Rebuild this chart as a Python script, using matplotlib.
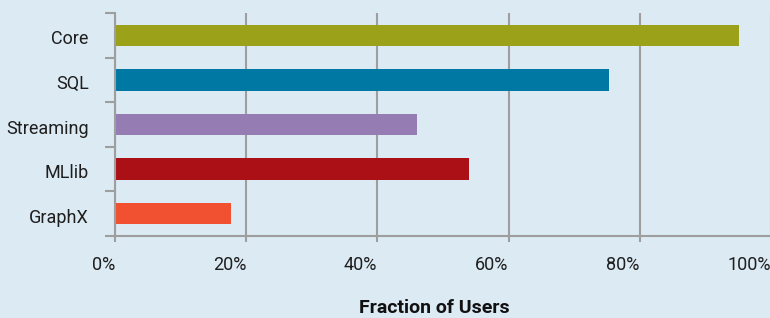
import matplotlib.pyplot as plt
from matplotlib.ticker import FuncFormatter
from matplotlib.transforms import ScaledTranslation

# Spark component usage
components = ['Core', 'SQL', 'Streaming', 'MLlib', 'GraphX']
fraction = [95.1, 75.3, 46.0, 54.0, 17.7]
bar_colors = ['#9BA21A', '#0078A4', '#957DB3', '#AB1016', '#F15131']
xticks = [0, 20, 40, 60, 80, 100]

bg = '#DBEAF3'
grey = '#9E9E9E'

plt.rcParams['font.family'] = ['Roboto', 'DejaVu Sans']

fig = plt.figure(figsize=(7.7, 3.18), dpi=100, facecolor=bg)
ax = fig.add_axes([115 / 770, 82 / 318, 656 / 770, 223 / 318], facecolor=bg)

ypos = list(range(len(components)))[::-1]
ax.barh(ypos, fraction, height=0.48, color=bar_colors, zorder=3)

ax.set_xlim(0, 100)
ax.set_ylim(-0.5, len(components) - 0.5)

ax.set_xticks(xticks)
ax.xaxis.set_major_formatter(FuncFormatter(lambda v, p: f'{v:.0f}%'))
shift = ScaledTranslation(-3 / 100, 0, fig.dpi_scale_trans)
for lab in ax.get_xticklabels():
    lab.set_horizontalalignment('right')
    lab.set_transform(lab.get_transform() + shift)
ax.grid(axis='x', color=grey, linewidth=1.5, zorder=1)

# category labels centered, boundary ticks as minor ticks
ax.set_yticks(ypos)
ax.set_yticklabels(components)
ax.set_yticks([y - 0.5 for y in range(len(components) + 1)], minor=True)
ax.tick_params(axis='y', which='major', length=0, pad=19, labelsize=13, labelcolor='#1E1E1E')
ax.tick_params(axis='y', which='minor', length=7, width=1.5, color=grey)
ax.tick_params(axis='x', length=4.5, width=1.5, color=grey, pad=10, labelsize=13, labelcolor='#1E1E1E')
down = ScaledTranslation(0, -2 / 100, fig.dpi_scale_trans)
for lab in ax.get_yticklabels():
    lab.set_transform(lab.get_transform() + down)

for s in ['top', 'right']:
    ax.spines[s].set_visible(False)
for s in ['left', 'bottom']:
    ax.spines[s].set_color(grey)
    ax.spines[s].set_linewidth(1.5)
    ax.spines[s].set_zorder(4)

fig.text(434 / 770, 1 - 308 / 318, 'Fraction of Users', ha='center', va='center',
         fontsize=14, fontweight='bold', color='#111111')

fig.savefig('out.png', dpi=100, facecolor=bg)
